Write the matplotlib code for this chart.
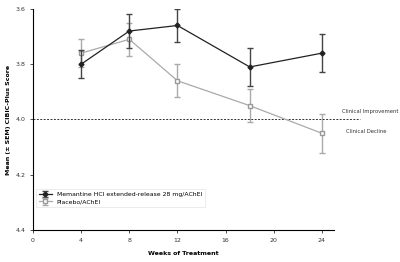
import matplotlib.pyplot as plt

weeks = [4, 8, 12, 18, 24]
memantine = [3.80, 3.68, 3.66, 3.81, 3.76]
memantine_err = [0.05, 0.06, 0.06, 0.07, 0.07]
placebo = [3.76, 3.71, 3.86, 3.95, 4.05]
placebo_err = [0.05, 0.06, 0.06, 0.06, 0.07]

fig = plt.figure(figsize=(4, 2.62), dpi=100)
ax = fig.add_axes([0.0825, 0.122, 0.7525, 0.844])

ax.errorbar(weeks, memantine, yerr=memantine_err, color='#222222', marker='D',
            markersize=2.5, linewidth=0.9, elinewidth=1.0, ecolor='#444444', capsize=2,
            label='Memantine HCl extended-release 28 mg/AChEI', zorder=3)
ax.errorbar(weeks, placebo, yerr=placebo_err, color='#aaaaaa', marker='s',
            markersize=3.5, markerfacecolor='white', markeredgecolor='#999999',
            linewidth=0.9, elinewidth=1.0, capsize=2,
            label='Placebo/AChEI', zorder=2)

ax.plot([0, 27.2], [4.0, 4.0], linestyle=(0, (2, 1.5)), color='#333333',
        linewidth=0.7, clip_on=False)
ax.text(25.7, 3.97, 'Clinical Improvement', fontsize=3.8, va='center', color='#333333')
ax.text(26.0, 4.045, 'Clinical Decline', fontsize=3.8, va='center', color='#333333')

ax.set_xlim(0, 25)
ax.set_ylim(4.4, 3.6)
ax.set_xticks([0, 4, 8, 12, 16, 20, 24])
ax.set_yticks([3.6, 3.8, 4.0, 4.2, 4.4])
ax.set_yticklabels(['3.6', '3.8', '4.0', '4.2', '4.4'])
ax.tick_params(labelsize=4.5, length=2, width=0.6, colors='#333333')
ax.spines['top'].set_visible(False)
ax.spines['right'].set_visible(False)
ax.spines['left'].set_linewidth(0.8)
ax.spines['bottom'].set_linewidth(0.8)

ax.set_xlabel('Weeks of Treatment', fontsize=4.5, fontweight='bold', labelpad=6)
ax.set_ylabel('Mean (± SEM) CIBIC-Plus Score', fontsize=4.5, fontweight='bold', labelpad=3)

leg = ax.legend(loc='lower left', bbox_to_anchor=(0.0, 0.09), fontsize=4.4,
                frameon=True, fancybox=False, edgecolor='#dddddd',
                handlelength=2.2, borderpad=0.4, labelspacing=0.4)
leg.get_frame().set_linewidth(0.5)

fig.savefig('out.png', dpi=100)
